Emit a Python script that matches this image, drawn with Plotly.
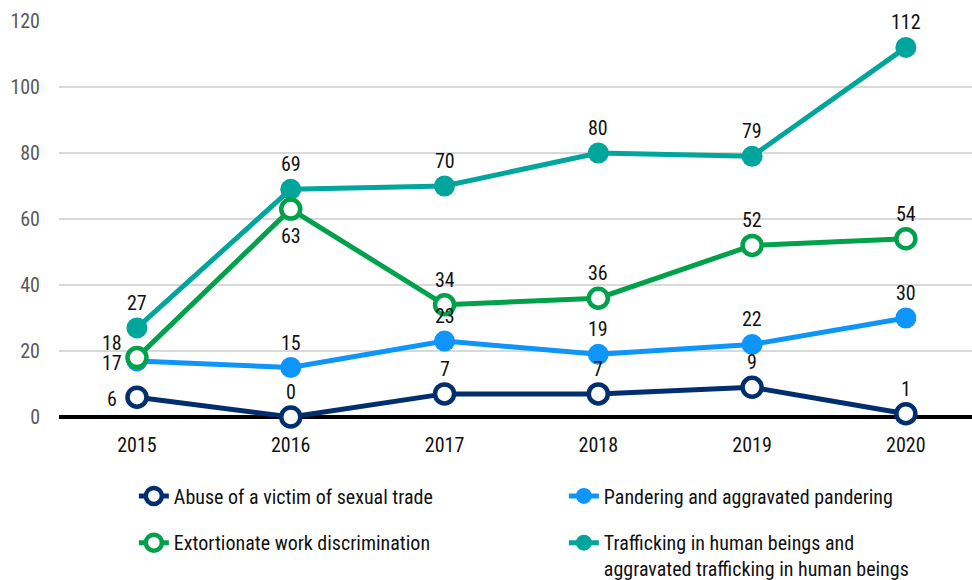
import plotly.graph_objects as go

years = ["2015", "2016", "2017", "2018", "2019", "2020"]
abuse = [6, 0, 7, 7, 9, 1]
pandering = [17, 15, 23, 19, 22, 30]
extortionate = [18, 63, 34, 36, 52, 54]
trafficking = [27, 69, 70, 80, 79, 112]

names = {
    "abuse": "Abuse of a victim of sexual trade",
    "pandering": "Pandering and aggravated pandering",
    "extortionate": "Extortionate work discrimination",
    "trafficking": "Trafficking in human beings and<br>aggravated trafficking in human beings",
}
colors = {
    "abuse": "#002E6E",
    "pandering": "#0E95FA",
    "extortionate": "#00A14B",
    "trafficking": "#00A59C",
}
# label placement per point
label_pos = {
    "abuse": ["left", "above", "above", "above", "above", "above"],
    "pandering": ["left", "above", "above", "above", "above", "above"],
    "extortionate": ["upleft", "below", "above", "above", "above", "above"],
    "trafficking": ["above", "above", "above", "above", "above", "above"],
}
shifts = {"above": (0, 25), "below": (0, -27), "left": (-25, -2), "upleft": (-25, 15)}

FONT = "Liberation Sans Narrow, Roboto Condensed, DejaVu Sans Condensed, Arial Narrow, sans-serif"
x = list(range(len(years)))

series = [
    ("trafficking", trafficking, False, "legend2", 4),
    ("pandering", pandering, False, "legend", 2),
    ("extortionate", extortionate, True, "legend2", 3),
    ("abuse", abuse, True, "legend", 1),
]

fig = go.Figure()
annotations = []
for key, vals, hollow, leg, rank in series:
    c = colors[key]
    fig.add_trace(go.Scatter(
        x=x, y=vals, mode="lines+markers", name=names[key],
        line=dict(color=c, width=5),
        marker=dict(size=19 if hollow else 21,
                    color="white" if hollow else c,
                    line=dict(color=c, width=4.5 if hollow else 0)),
        cliponaxis=False, legend=leg, legendrank=rank,
    ))
    for xi, v, p in zip(x, vals, label_pos[key]):
        dx, dy = shifts[p]
        annotations.append(dict(x=xi, y=v, text=str(v), showarrow=False,
                                xshift=dx, yshift=dy,
                                font=dict(size=20, color="#111111", family=FONT)))

legend_common = dict(orientation="h", xanchor="left", yanchor="top",
                     entrywidth=385, entrywidthmode="pixels",
                     font=dict(size=20, color="#111111", family=FONT),
                     bgcolor="rgba(0,0,0,0)", valign="top")

fig.update_layout(
    width=972, height=580,
    margin=dict(l=59, r=0, t=21, b=163, autoexpand=False),
    paper_bgcolor="white", plot_bgcolor="white",
    font=dict(family=FONT, size=20, color="#111111"),
    annotations=annotations,
    showlegend=True,
    legend=dict(x=0.082, y=-0.150, **legend_common),
    legend2=dict(x=0.082, y=-0.268, **legend_common),
    xaxis=dict(tickmode="array", tickvals=x, ticktext=years,
               range=[-0.507, 5.43], showgrid=False, zeroline=False,
               showline=False, ticks="", ticklabelstandoff=14,
               tickfont=dict(size=20, color="#111111")),
    yaxis=dict(range=[0, 120], tickvals=[0, 20, 40, 60, 80, 100, 120],
               showgrid=True, gridcolor="#D9D9D9", gridwidth=1.5,
               zeroline=True, zerolinecolor="#000000", zerolinewidth=3.5,
               showline=False, ticks="", ticklabelstandoff=18,
               tickfont=dict(size=20, color="#595959")),
)

fig.write_html("out.html", config={"displayModeBar": False},
               post_script="document.body.style.margin='0';document.body.style.overflow='hidden';")
